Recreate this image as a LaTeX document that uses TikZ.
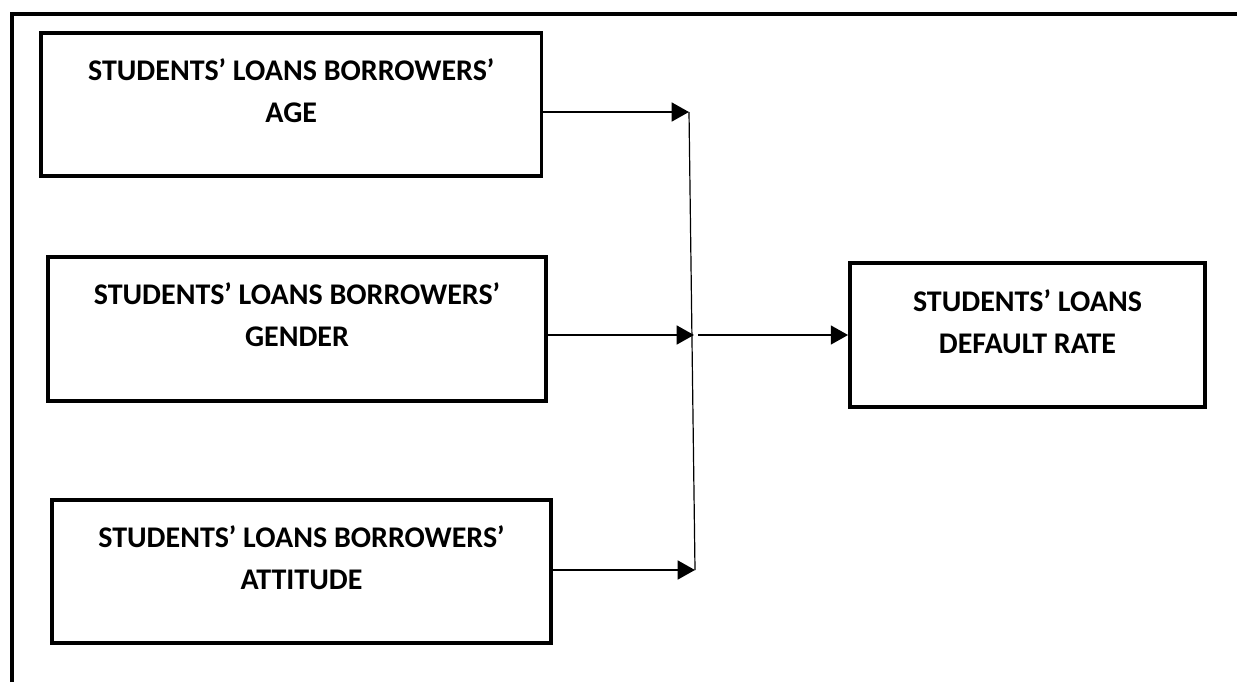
\documentclass[tikz,border=0pt]{standalone}
\usepackage{fontspec}
\setmainfont{Carlito}
\usetikzlibrary{positioning,arrows.meta}

\begin{document}
\begin{tikzpicture}[x=0.75pt,y=0.75pt,yscale=-1,xscale=1,
  box/.style={draw, line width=2.8pt, minimum height=107.5pt, inner sep=0pt},
  txt/.style={align=center, inner sep=0pt, font=\fontsize{22.5}{31.5}\selectfont\bfseries},
  arr/.style={line width=2pt, -{Triangle[length=13pt,width=14pt]}}]
\useasboundingbox (0,0) rectangle (1237,682);

%Outer frame
\draw [line width=3pt] (11.5,682) -- (11.5,13.5) -- (1237,13.5) ;

%Boxes
\node [box, minimum width=375.4pt] (age) at (291.25,104.5) {};
\node [box, minimum width=373.5pt] (gender) at (297,329) {};
\node [box, minimum width=374.3pt] (attitude) at (301.5,571.5) {};
\node [box, minimum width=266.3pt] (rate) at (1027.5,335) {};

% Text Node
\node [txt, below=20.5pt of age.north] (agetxt) {STUDENTS’ LOANS BORROWERS’\\AGE};
% Text Node
\node [txt, below=20.5pt of gender.north] (gendertxt) {STUDENTS’ LOANS BORROWERS’\\GENDER};
% Text Node
\node [txt, below=20.5pt of attitude.north] (attitudetxt) {STUDENTS’ LOANS BORROWERS’\\ATTITUDE};
% Text Node
\node [txt, below=21pt of rate.north] (ratetxt) {STUDENTS’ LOANS\\DEFAULT RATE};

%Junction line
\coordinate (top) at (689,112);
\coordinate (mid) at (694,335);
\coordinate (bot) at (695,570);
\draw [line width=0.9pt] (top) -- (bot) ;

%Arrows
\draw [arr] (age.east |- top) -- (top) ;
\draw [arr] (gender.east |- mid) -- (mid) ;
\draw [arr] (attitude.east |- bot) -- (bot) ;
\draw [arr] ([xshift=3pt]mid) -- (rate.west) ;

\end{tikzpicture}
\end{document}
